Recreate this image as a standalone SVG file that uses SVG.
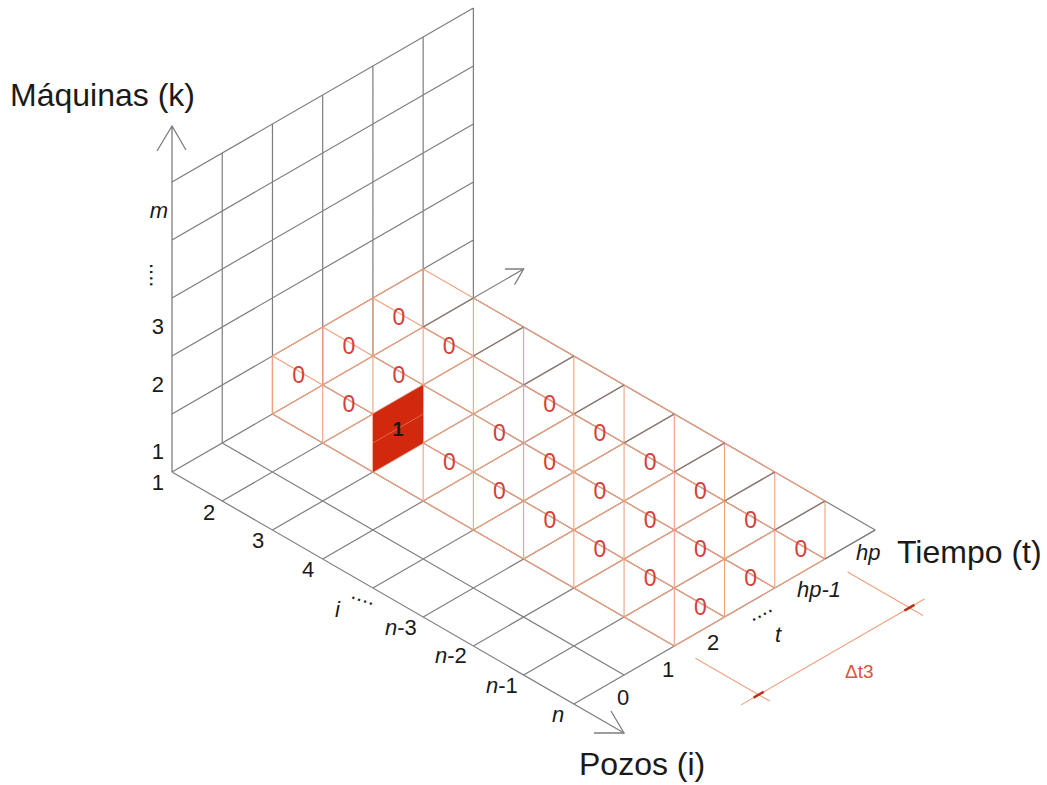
<svg xmlns="http://www.w3.org/2000/svg" width="1047" height="785" viewBox="0 0 1047 785">
<style>
.g{fill:none;stroke:#7d7d7d;stroke-width:1.2;vector-effect:non-scaling-stroke}
.o{fill:none;stroke:#f2a07c;stroke-width:1.1;vector-effect:non-scaling-stroke}
.ax{fill:none;stroke:#7d7d7d;stroke-width:1.3}
.t{font-family:"Liberation Sans",Arial,sans-serif;fill:#1a1a1a}
.lbl{font-size:22px}
.big{font-size:32px}
.z{font-family:"Liberation Sans",Arial,sans-serif;font-size:23px;fill:#d4403a;text-anchor:middle}
</style>
<rect width="1047" height="785" fill="#ffffff"/>
<g id="grid" transform="matrix(50.23 -29 50.23 29 172 472)">
<path class="g" d="M1 0L6 -5M2 0L7 -5M3 0L8 -5M4 0L9 -5M5 0L10 -5M6 0L11 -5M1 -1L7 -1M2 -2L8 -2M3 -3L9 -3M4 -4L10 -4M5 -5L11 -5M0 0L7 0M0 0L0 9M1 0L1 8M2 0L2 8M3 0L3 8M4 0L4 8M5 0L5 8M6 0L6 8M0 1L6 1M0 2L6 2M0 3L6 3M0 4L6 4M0 5L6 5M0 6L6 6M0 7L6 7M0 8L6 8"/>
<path class="o" d="M2 0L2 8M3 -1L3 8M4 -1L4 8M5 -1L5 8M6 -1L6 7M2 0L5 0M2 1L5 1M2 2L5 2M2 3L5 3M2 4L5 4M2 5L5 5M2 6L5 6M2 7L5 7M2 8L5 8M3 -1L6 -1M3 0L6 0M3 1L6 1M3 2L6 2M3 3L6 3M3 4L6 4M3 5L6 5M3 6L6 6M3 7L6 7M2 0L3 -1M3 0L4 -1M4 0L5 -1M5 0L6 -1M2 1L3 0M3 1L4 0M4 1L5 0M5 1L6 0M2 2L3 1M3 2L4 1M4 2L5 1M5 2L6 1M2 3L3 2M3 3L4 2M4 3L5 2M5 3L6 2M2 4L3 3M3 4L4 3M4 4L5 3M5 4L6 3M2 5L3 4M3 5L4 4M4 5L5 4M5 5L6 4M2 6L3 5M3 6L4 5M4 6L5 5M5 6L6 5M2 7L3 6M3 7L4 6M4 7L5 6M5 7L6 6M2 8L3 7M3 8L4 7M4 8L5 7M5 8L6 7"/>
<path class="g" d="M5 0L6 0M5 1L6 1M5 2L6 2M5 3L6 3M5 4L6 4M5 5L6 5M5 6L6 6M5 7L6 7M5 8L6 8"/>
<polygon points="2,2 3,2 4,1 3,1" fill="#d2290e"/>
<path d="M2.5 1.5L3.5 1.5" fill="none" stroke="#e2644a" stroke-width="1" vector-effect="non-scaling-stroke"/>
<path class="o" d="M2 8.42L2 9.9M5 8.45L5 9.95M1.65 9.68L5.3 9.68"/>
<path d="M1.9 9.68L2.1 9.68M4.9 9.68L5.1 9.68" fill="none" stroke="#b8321c" stroke-width="2.5" vector-effect="non-scaling-stroke"/>
</g>
<g id="axes">
<path class="ax" d="M172 472L172 126M157 151L172 126L186 150"/>
<path class="ax" d="M505 269L523.6 269L514.6 284.6"/>
<path class="ax" d="M594 733L624 733L611 711"/>
</g>
<g id="values">
<text class="z" x="298.6" y="382.5">0</text>
<text class="z" x="348.8" y="411.5">0</text>
<text class="z" x="449.3" y="469.5">0</text>
<text class="z" x="499.5" y="498.5">0</text>
<text class="z" x="549.8" y="527.5">0</text>
<text class="z" x="600" y="556.5">0</text>
<text class="z" x="650.2" y="585.5">0</text>
<text class="z" x="700.4" y="614.5">0</text>
<text class="z" x="348.8" y="353.5">0</text>
<text class="z" x="399" y="382.5">0</text>
<text class="z" x="499.5" y="440.5">0</text>
<text class="z" x="549.7" y="469.5">0</text>
<text class="z" x="600" y="498.5">0</text>
<text class="z" x="650.2" y="527.5">0</text>
<text class="z" x="700.4" y="556.5">0</text>
<text class="z" x="750.6" y="585.5">0</text>
<text class="z" x="399" y="324.5">0</text>
<text class="z" x="449.2" y="353.5">0</text>
<text class="z" x="549.7" y="411.5">0</text>
<text class="z" x="600" y="440.5">0</text>
<text class="z" x="650.2" y="469.5">0</text>
<text class="z" x="700.4" y="498.5">0</text>
<text class="z" x="750.6" y="527.5">0</text>
<text class="z" x="800.8" y="556.5">0</text>
<text class="t" x="398" y="436" font-size="20" font-weight="bold" text-anchor="middle" fill="#111">1</text>
</g>
<g id="labels">
<text class="t big" x="10" y="106">Máquinas (k)</text>
<text class="t big" x="897" y="563">Tiempo (t)</text>
<text class="t big" x="579" y="775">Pozos (i)</text>
<text class="t lbl" x="168" y="218" text-anchor="end" font-style="italic">m</text>
<text class="t lbl" transform="translate(150 263) rotate(90)">....</text>
<text class="t lbl" x="164" y="334" text-anchor="end">3</text>
<text class="t lbl" x="164" y="392" text-anchor="end">2</text>
<text class="t lbl" x="164" y="459" text-anchor="end">1</text>
<text class="t lbl" x="164" y="490" text-anchor="end">1</text>
<text class="t lbl" x="203" y="520">2</text>
<text class="t lbl" x="252" y="548">3</text>
<text class="t lbl" x="302" y="577">4</text>
<text class="t lbl" x="335" y="617" font-style="italic">i</text>
<text class="t lbl" transform="translate(350 598) rotate(18)">....</text>
<text class="t lbl" x="385" y="635"><tspan font-style="italic">n</tspan>-3</text>
<text class="t lbl" x="435" y="663"><tspan font-style="italic">n</tspan>-2</text>
<text class="t lbl" x="486" y="693"><tspan font-style="italic">n</tspan>-1</text>
<text class="t lbl" x="552" y="722" font-style="italic">n</text>
<text class="t lbl" x="617" y="705">0</text>
<text class="t lbl" x="662" y="677">1</text>
<text class="t lbl" x="707" y="650">2</text>
<text class="t lbl" transform="translate(752 622) rotate(-28)">....</text>
<text class="t lbl" x="775" y="642" font-style="italic">t</text>
<text class="t lbl" x="797" y="597" font-style="italic">hp-1</text>
<text class="t lbl" x="856" y="560" font-style="italic">hp</text>
<text x="845" y="678" font-family="Liberation Sans, Arial, sans-serif" font-size="19" fill="#e0503a">Δt3</text>
</g>
</svg>
